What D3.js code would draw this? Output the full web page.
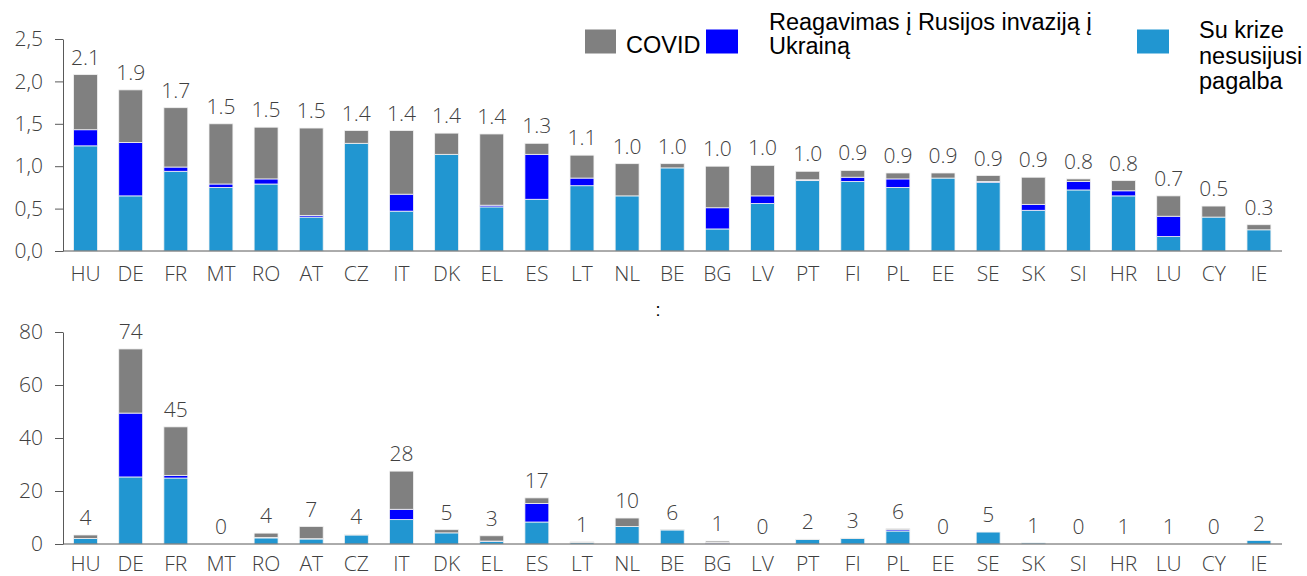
<!DOCTYPE html>
<html>
<head>
<meta charset="utf-8">
<script src="https://cdn.jsdelivr.net/npm/d3@7"></script>
<style>
  html, body { margin: 0; padding: 0; background: #fff; }
  svg { display: block; }
</style>
</head>
<body>
<div id="chart"></div>
<script>
// categories (same order in both panels)
const countries = ["HU","DE","FR","MT","RO","AT","CZ","IT","DK","EL","ES","LT","NL","BE","BG","LV","PT","FI","PL","EE","SE","SK","SI","HR","LU","CY","IE"];

// top panel (% of GDP)
const topBase  = [1.24,0.65,0.94,0.75,0.79,0.40,1.27,0.47,1.14,0.52,0.61,0.77,0.65,0.98,0.26,0.56,0.83,0.82,0.75,0.86,0.81,0.48,0.72,0.65,0.17,0.40,0.25];
const topUkr   = [0.19,0.63,0.05,0.04,0.06,0.02,0.00,0.20,0.00,0.02,0.53,0.09,0.00,0.00,0.25,0.09,0.01,0.05,0.10,0.00,0.01,0.07,0.10,0.06,0.24,0.00,0.00];
const topCovid = [0.65,0.62,0.70,0.71,0.61,1.03,0.15,0.75,0.25,0.84,0.13,0.27,0.38,0.05,0.49,0.36,0.10,0.08,0.07,0.06,0.07,0.32,0.03,0.12,0.24,0.13,0.06];
const topLabels = ["2.1","1.9","1.7","1.5","1.5","1.5","1.4","1.4","1.4","1.4","1.3","1.1","1.0","1.0","1.0","1.0","1.0","0.9","0.9","0.9","0.9","0.9","0.8","0.8","0.7","0.5","0.3"];
const topTicks = [0, 0.5, 1, 1.5, 2, 2.5];

// bottom panel (EUR bn)
const botBase  = [2.1,25.3,24.9,0,2.3,1.9,3.4,9.2,4.2,1.0,8.3,0.5,6.6,5.3,0.3,0,1.7,2.1,4.9,0,4.5,0.4,0,0,0,0,1.3];
const botUkr   = [0,24.1,1.0,0,0.2,0.1,0,3.9,0,0.1,7.0,0.1,0,0,0.3,0,0,0,0.5,0,0,0,0,0,0,0,0];
const botCovid = [1.3,24.2,18.3,0,1.6,4.6,0.2,14.4,1.2,2.0,2.1,0.2,3.2,0.1,0.5,0,0.1,0.1,0.4,0,0,0,0,0,0,0,0];
const botLabels = ["4","74","45","0","4","7","4","28","5","3","17","1","10","6","1","0","2","3","6","0","5","1","0","1","1","0","2"];
const botTicks = [0, 20, 40, 60, 80];

const seriesKeys = ["base", "ukr", "covid"];
const colors = { base: "#2196d1", ukr: "#0000ff", covid: "#808080" };

const W = 1307, H = 576;
const textColor = "#404040";
const axisColor = "#595959";
const chartFont = "'Open Sans', 'Noto Sans', sans-serif";
const chartSize = "21px";

const svg = d3.select("#chart").append("svg")
    .attr("width", W)
    .attr("height", H)
    .style("font-family", chartFont);

const x = d3.scaleBand()
    .domain(countries)
    .range([63, 1281.5])
    .paddingInner(0.47)
    .paddingOuter(0.235);

function styleText(sel) {
    sel.attr("fill", textColor)
        .style("font-size", chartSize)
        .style("font-weight", 300)
        .style("font-family", chartFont);
}

function drawPanel(opts) {
    const rows = countries.map((c, i) => ({
        country: c,
        base: opts.base[i],
        ukr: opts.ukr[i],
        covid: opts.covid[i],
        label: opts.labels[i]
    }));

    const y = d3.scaleLinear().domain(opts.domain).range([opts.y0, opts.y1]);
    const stacked = d3.stack().keys(seriesKeys)(rows);

    const g = svg.append("g");

    // stacked bars
    g.selectAll("g.layer")
        .data(stacked)
        .join("g")
        .attr("class", "layer")
        .attr("fill", d => colors[d.key])
        .selectAll("rect")
        .data(d => d.filter(s => s[1] - s[0] > 0))
        .join("rect")
        .attr("x", d => x(d.data.country))
        .attr("width", x.bandwidth())
        .attr("y", d => y(d[1]))
        .attr("height", d => y(d[0]) - y(d[1]))
        .attr("stroke", "#f2f2f2")
        .attr("stroke-width", 0.8);

    // value labels above bars
    g.selectAll("text.val")
        .data(rows)
        .join("text")
        .attr("class", "val")
        .attr("x", d => x(d.country) + x.bandwidth() / 2)
        .attr("y", d => y(d.base + d.ukr + d.covid) - 10)
        .attr("text-anchor", "middle")
        .call(styleText)
        .text(d => d.label);

    // y axis
    const yAxis = d3.axisLeft(y)
        .tickValues(opts.ticks)
        .tickFormat(opts.fmt)
        .tickSize(8)
        .tickSizeOuter(0)
        .tickPadding(12);

    const yg = g.append("g")
        .attr("transform", "translate(63,0)")
        .call(yAxis);
    yg.select(".domain").attr("stroke", axisColor);
    yg.selectAll(".tick line").attr("stroke", axisColor);
    yg.selectAll(".tick text").call(styleText);

    // baseline
    g.append("line")
        .attr("x1", 63).attr("x2", 1282)
        .attr("y1", y(0)).attr("y2", y(0))
        .attr("stroke", axisColor);

    // category labels
    const xg = g.append("g")
        .attr("transform", `translate(0,${y(0)})`)
        .call(d3.axisBottom(x).tickSize(0).tickPadding(opts.catPad));
    xg.select(".domain").remove();
    xg.selectAll(".tick text").call(styleText);
}

drawPanel({
    base: topBase, ukr: topUkr, covid: topCovid, labels: topLabels,
    domain: [0, 2.5], y0: 251, y1: 39, ticks: topTicks,
    fmt: d => d.toFixed(1).replace(".", ","), catPad: 15
});

drawPanel({
    base: botBase, ukr: botUkr, covid: botCovid, labels: botLabels,
    domain: [0, 80], y0: 544, y1: 332, ticks: botTicks,
    fmt: d => String(d), catPad: 12
});

// colon between the panels
svg.append("text")
    .attr("x", 658).attr("y", 316)
    .attr("text-anchor", "middle")
    .style("font-family", "'Liberation Sans', Arial, sans-serif")
    .style("font-size", "18px")
    .text(":");

// legend
const legendFont = "'Liberation Sans', Arial, sans-serif";
const legendItems = [
    { key: "covid", x: 585, w: 31, lines: ["COVID"], tx: 626, ty: 53 },
    { key: "ukr", x: 706, w: 32, lines: ["Reagavimas į Rusijos invaziją į", "Ukrainą"], tx: 769, ty: 30 },
    { key: "base", x: 1137, w: 32, lines: ["Su krize", "nesusijusi", "pagalba"], tx: 1199, ty: 38 }
];

const legend = svg.append("g").style("font-family", legendFont);
legendItems.forEach(item => {
    legend.append("rect")
        .attr("x", item.x).attr("y", 29.5)
        .attr("width", item.w).attr("height", 24)
        .attr("fill", colors[item.key]);
    const lh = item.lines.length === 3 ? 25.5 : 23.5;
    const t = legend.append("text")
        .attr("fill", "#000")
        .style("font-size", "23.5px");
    item.lines.forEach((line, i) => {
        t.append("tspan")
            .attr("x", item.tx)
            .attr("y", item.ty + i * lh)
            .text(line);
    });
});
</script>
</body>
</html>
